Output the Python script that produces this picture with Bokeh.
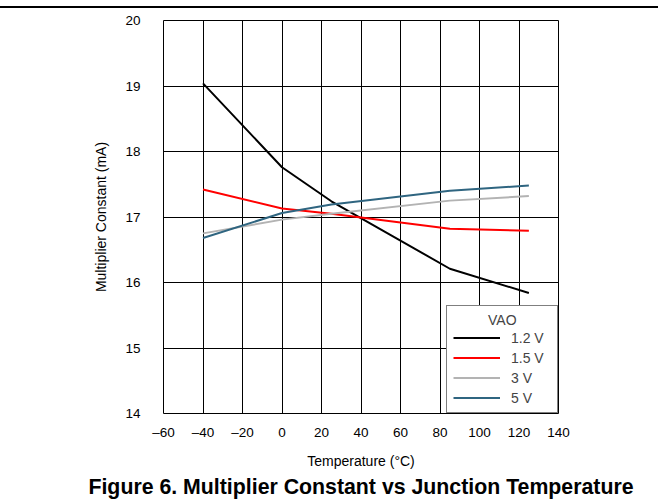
from bokeh.plotting import figure
from bokeh.models import FixedTicker, Legend, LegendItem, Title, Div
from bokeh.layouts import column
from bokeh.embed import file_html
from bokeh.resources import INLINE

# ---- data ----
temperature = [-40, 0, 25, 85, 125]
vao_1v2 = [19.04, 17.76, 17.24, 16.21, 15.84]
vao_1v5 = [17.42, 17.13, 17.05, 16.82, 16.79]
vao_3v = [16.75, 16.96, 17.05, 17.25, 17.32]
vao_5v = [16.68, 17.06, 17.19, 17.40, 17.48]

series_labels = ["1.2 V", "1.5 V", "3 V", "5 V"]
series_colors = ["#000000", "#FF0000", "#B3B3B3", "#2F6580"]

x_ticks = [-60, -40, -20, 0, 20, 40, 60, 80, 100, 120, 140]
x_tick_labels = ["\u201360", "\u201340", "\u201320", "0", "20", "40", "60", "80", "100", "120", "140"]
y_ticks = [14, 15, 16, 17, 18, 19, 20]

FONT = "Liberation Sans"

p = figure(width=658, height=500, x_range=(-60, 140), y_range=(14, 20),
           output_backend="svg", toolbar_location=None,
           min_border_left=163, min_border_right=100,
           min_border_top=20, min_border_bottom=87)

p.outline_line_color = "black"
p.outline_line_width = 1

for ax in (p.xaxis[0], p.yaxis[0]):
    ax.axis_line_color = None
    ax.major_tick_line_color = None
    ax.minor_tick_line_color = None
    ax.major_label_text_font = FONT
    ax.major_label_text_font_size = "13.5px"
    ax.major_label_text_color = "black"
    ax.axis_label_text_font = FONT
    ax.axis_label_text_font_size = "14px"
    ax.axis_label_text_font_style = "normal"
    ax.axis_label_text_color = "black"

p.xaxis.ticker = FixedTicker(ticks=x_ticks)
p.xaxis.major_label_overrides = {t: lab for t, lab in zip(x_ticks, x_tick_labels)}
p.yaxis.ticker = FixedTicker(ticks=y_ticks)
p.xaxis.axis_label = "Temperature (\u00b0C)"
p.yaxis.axis_label = "Multiplier Constant (mA)"
p.xaxis.major_label_standoff = 5
p.yaxis.major_label_standoff = 17
p.xaxis.axis_label_standoff = 10
p.yaxis.axis_label_standoff = 13

p.xgrid.ticker = FixedTicker(ticks=x_ticks)
p.ygrid.ticker = FixedTicker(ticks=y_ticks)
for g in (p.xgrid[0], p.ygrid[0]):
    g.grid_line_color = "black"
    g.grid_line_width = 1
    g.grid_line_alpha = 1

items = []
for ys, lab, col in zip([vao_1v2, vao_1v5, vao_3v, vao_5v], series_labels, series_colors):
    r = p.line(temperature, ys, line_color=col, line_width=2)
    items.append(LegendItem(label=lab, renderers=[r]))

legend = Legend(items=items, location="bottom_right", margin=0, padding=6,
                title="\u00a0" * 9 + "VAO", title_text_font=FONT, title_text_font_size="14px",
                title_text_font_style="normal", title_standoff=1,
                label_text_font=FONT, label_text_font_size="14px",
                glyph_width=47, glyph_height=17, label_height=17, label_standoff=11,
                label_width=40, spacing=3, border_line_color="black", border_line_width=1,
                background_fill_color="white", background_fill_alpha=1)
p.add_layout(legend)

p.add_layout(Title(text="Figure 6. Multiplier Constant vs Junction Temperature",
                   text_font=FONT, text_font_size="21.3px", text_font_style="bold",
                   align="center", text_color="black", standoff=3), "below")

rule = Div(text='<div style="position:fixed;top:6px;left:0px;width:658px;height:2px;background:#000;"></div>',
           width=1, height=1)

layout = column(p, rule, spacing=0)

open("out.html", "w").write(file_html(layout, INLINE))
